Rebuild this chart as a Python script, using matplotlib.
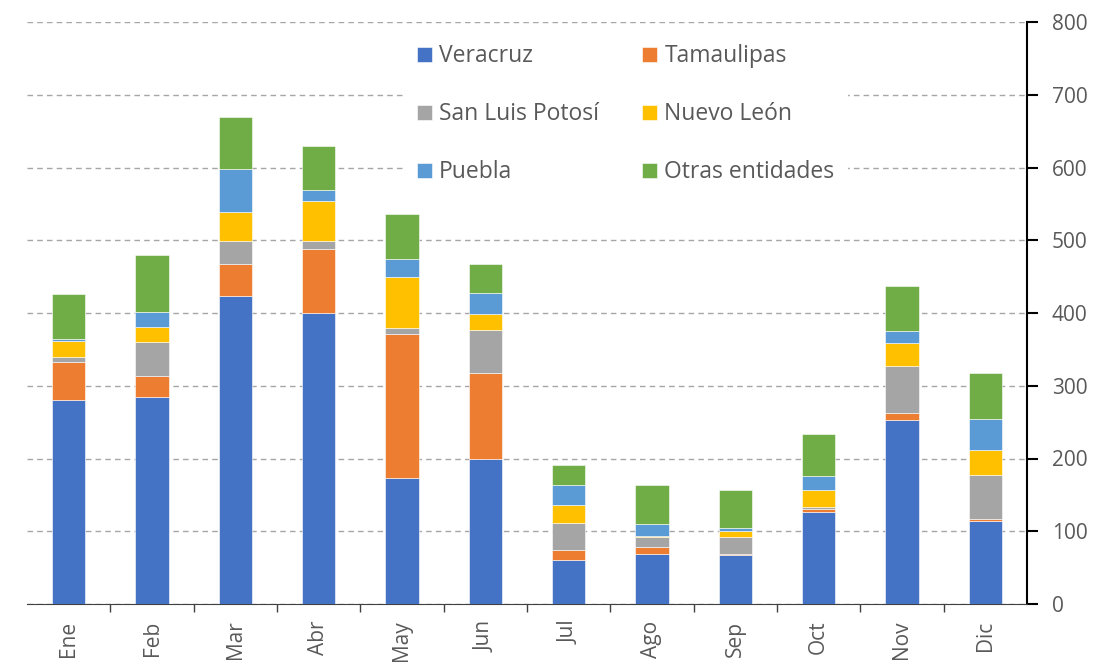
import matplotlib
matplotlib.use("Agg")
import matplotlib.pyplot as plt
import numpy as np

meses = ["Ene", "Feb", "Mar", "Abr", "May", "Jun", "Jul", "Ago", "Sep", "Oct", "Nov", "Dic"]
veracruz = [281, 285, 424, 400, 173, 200, 60, 69, 67, 127, 253, 114]
tamaulipas = [52, 28, 43, 88, 198, 117, 14, 10, 2, 3, 10, 3]
san_luis = [6, 47, 32, 11, 9, 60, 37, 13, 23, 4, 64, 61]
nuevo_leon = [22, 21, 40, 55, 70, 22, 25, 1, 8, 23, 32, 34]
puebla = [3, 20, 59, 15, 24, 29, 27, 17, 4, 19, 16, 42]
otras = [62, 79, 71, 61, 62, 39, 28, 53, 53, 58, 62, 63]

series = [
    ("Veracruz", veracruz, "#4472C4"),
    ("Tamaulipas", tamaulipas, "#ED7D31"),
    ("San Luis Potosí", san_luis, "#A5A5A5"),
    ("Nuevo León", nuevo_leon, "#FFC000"),
    ("Puebla", puebla, "#5B9BD5"),
    ("Otras entidades", otras, "#70AD47"),
]

plt.rcParams['font.family'] = ['Open Sans', 'DejaVu Sans']
txt = "#595959"

fig = plt.figure(figsize=(11.02, 6.71), dpi=100)
ax = fig.add_axes([27/1102, 1 - 604/671, 1000/1102, 582/671])

x = np.arange(len(meses))
bottom = np.zeros(len(meses))
handles = []
for name, vals, col in series:
    b = ax.bar(x, vals, 0.4, bottom=bottom, color=col, label=name,
               edgecolor="white", linewidth=0.4, zorder=3)
    handles.append(b)
    bottom += np.array(vals)

ax.set_xlim(-0.5, 11.5)
ax.set_ylim(0, 800)
ax.set_yticks(range(0, 801, 100))
ax.yaxis.tick_right()
ax.tick_params(axis="y", direction="out", length=8, width=1.5, colors="black",
               labelcolor=txt, labelsize=15, pad=10)
ax.grid(axis="y", color="#A6A6A6", linestyle=(0, (4, 3)), linewidth=1, zorder=0)

ax.set_xticks(x)
ax.set_xticklabels(meses, rotation=90, fontsize=15, color=txt)
ax.set_xticks(np.arange(0.5, 11, 1), minor=True)
ax.tick_params(axis="x", which="major", length=0, pad=12)
ax.tick_params(axis="x", which="minor", length=6, width=1, color="#404040")

for s in ["left", "top"]:
    ax.spines[s].set_visible(False)
ax.spines["right"].set_linewidth(1.5)
ax.spines["bottom"].set_color("#404040")

# legend filled row by row, two columns
order = [0, 2, 4, 1, 3, 5]
leg = ax.legend([handles[i] for i in order], [series[i][0] for i in order],
                ncol=2, loc="upper left", bbox_to_anchor=(0.376, 0.985),
                fontsize=16.5, frameon=True, fancybox=False, edgecolor="none",
                facecolor="white", framealpha=1, labelspacing=1.48,
                handlelength=0.66, handleheight=0.66, handletextpad=0.3,
                columnspacing=1.9, borderpad=0.6, borderaxespad=0)
for t in leg.get_texts():
    t.set_color(txt)
leg.set_zorder(5)

fig.savefig("out.png", dpi=100)
